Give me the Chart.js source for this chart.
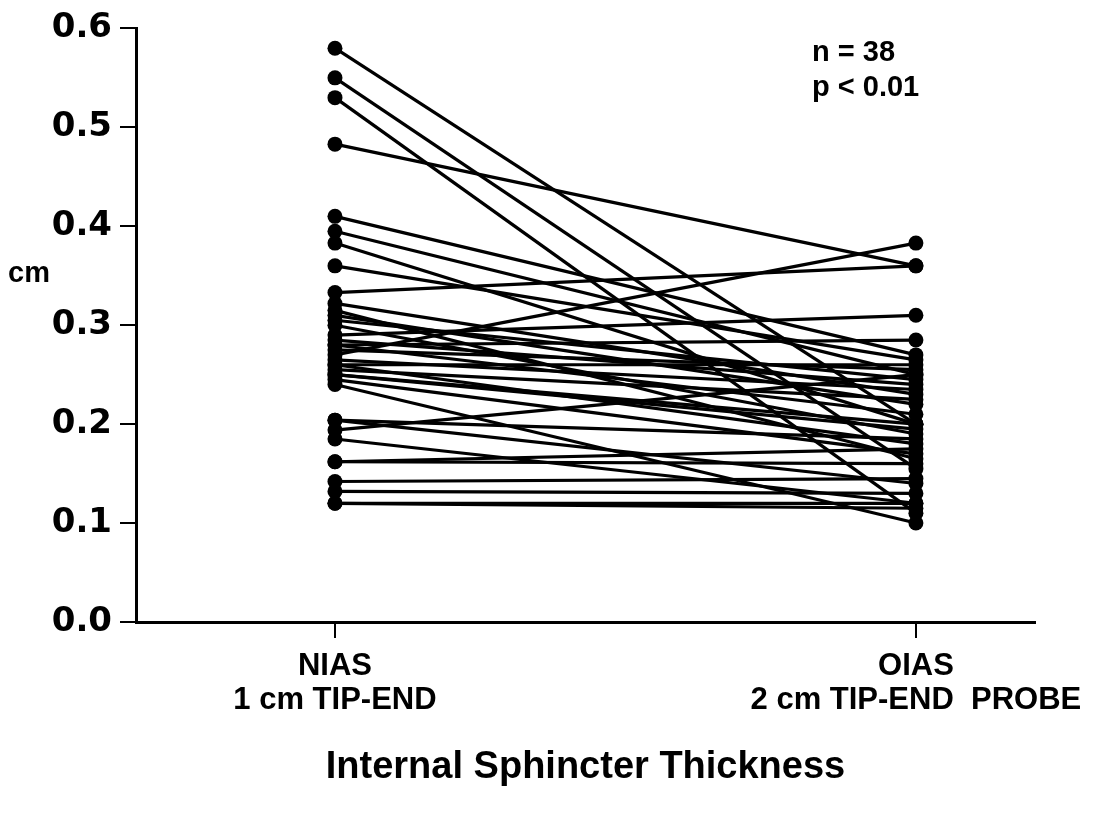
<!DOCTYPE html>
<html>
<head>
<meta charset="utf-8">
<script src="https://cdn.jsdelivr.net/npm/chart.js@4/dist/chart.umd.min.js"></script>
<style>
    html, body { margin: 0; padding: 0; background: #fff; }
</style>
</head>
<body>
<canvas id="thicknessChart" width="1095" height="814"></canvas>
<script>
// categories (x = 0 and x = 1)
const groups = [['NIAS', '1 cm TIP-END'], ['OIAS', '2 cm TIP-END  PROBE']];

// paired thickness values (cm), same index = same patient
const niasValues = [0.58, 0.55, 0.53, 0.483, 0.41, 0.395, 0.383, 0.36, 0.333,
    0.322, 0.315, 0.31, 0.305, 0.30, 0.29, 0.285, 0.28, 0.28, 0.275, 0.27, 0.265,
    0.26, 0.26, 0.255, 0.25, 0.25, 0.245, 0.24,
    0.204, 0.204, 0.194, 0.185, 0.162, 0.162, 0.142, 0.132, 0.12, 0.12];
const oiasValues = [0.20, 0.155, 0.11, 0.36, 0.27, 0.25, 0.20, 0.265, 0.36,
    0.23, 0.165, 0.22, 0.245, 0.19, 0.31, 0.24, 0.285, 0.21, 0.255, 0.383, 0.235,
    0.26, 0.18, 0.225, 0.20, 0.195, 0.17, 0.10,
    0.185, 0.14, 0.25, 0.12, 0.16, 0.175, 0.145, 0.13, 0.12, 0.115];

const yTicks = [0, 0.1, 0.2, 0.3, 0.4, 0.5, 0.6];
const axisTitle = 'Internal Sphincter Thickness';
const unitLabel = 'cm';
const statsText = ['n = 38', 'p < 0.01'];

const datasets = niasValues.map((v, i) => ({
    data: [{ x: 0, y: v }, { x: 1, y: oiasValues[i] }],
    borderColor: '#000',
    borderWidth: 3.2,
    pointRadius: 7.5,
    pointBackgroundColor: '#000',
    pointBorderWidth: 0,
    clip: false
}));

// plain text outside the plot: unit label and statistics
const extraText = {
    id: 'extraText',
    afterDraw(chart) {
        const ctx = chart.ctx;
        const yScale = chart.scales.y;
        ctx.save();
        ctx.fillStyle = '#000';
        ctx.textBaseline = 'middle';
        ctx.font = 'bold 29px "Liberation Sans", Arial, sans-serif';
        ctx.textAlign = 'left';
        ctx.fillText(unitLabel, 8, yScale.getPixelForValue(0.352));
        const area = chart.chartArea;
        ctx.fillText(statsText[0], area.left + 676, area.top + 25);
        ctx.fillText(statsText[1], area.left + 676, area.top + 60);
        ctx.restore();
    }
};

new Chart(document.getElementById('thicknessChart'), {
    type: 'line',
    data: { datasets: datasets },
    options: {
        responsive: false,
        animation: false,
        layout: { padding: { left: 5, right: 60, top: 20, bottom: 0 } },
        plugins: {
            legend: { display: false },
            tooltip: { enabled: false }
        },
        scales: {
            x: {
                type: 'linear',
                min: -0.3425,
                max: 1.205,
                afterBuildTicks: scale => { scale.ticks = [{ value: 0 }, { value: 1 }]; },
                afterFit: scale => {
                    scale.height = 192;
                    scale.paddingLeft = 0;
                    scale.paddingRight = 0;
                },
                grid: { drawOnChartArea: false, color: '#000', lineWidth: 2, tickLength: 16 },
                border: { color: '#000', width: 3 },
                ticks: {
                    color: '#000',
                    padding: 12,
                    maxRotation: 0,
                    font: { family: '"Liberation Sans", Arial, sans-serif', weight: 'bold', size: 31, lineHeight: 1.08 },
                    callback: (value, index) => groups[index]
                },
                title: {
                    display: true,
                    text: axisTitle,
                    color: '#000',
                    padding: { top: 0, bottom: 24 },
                    font: { family: '"Liberation Sans", Arial, sans-serif', weight: 'bold', size: 38 }
                }
            },
            y: {
                min: 0,
                max: 0.6,
                afterBuildTicks: scale => { scale.ticks = yTicks.map(v => ({ value: v })); },
                afterFit: scale => { scale.width = 131; },
                grid: { drawOnChartArea: false, color: '#000', lineWidth: 2, tickLength: 16 },
                border: { color: '#000', width: 3 },
                ticks: {
                    color: '#000',
                    padding: 8,
                    font: { family: '"DejaVu Sans", sans-serif', weight: 'bold', size: 34 },
                    callback: value => value.toFixed(1)
                }
            }
        }
    },
    plugins: [extraText]
});
</script>
</body>
</html>
